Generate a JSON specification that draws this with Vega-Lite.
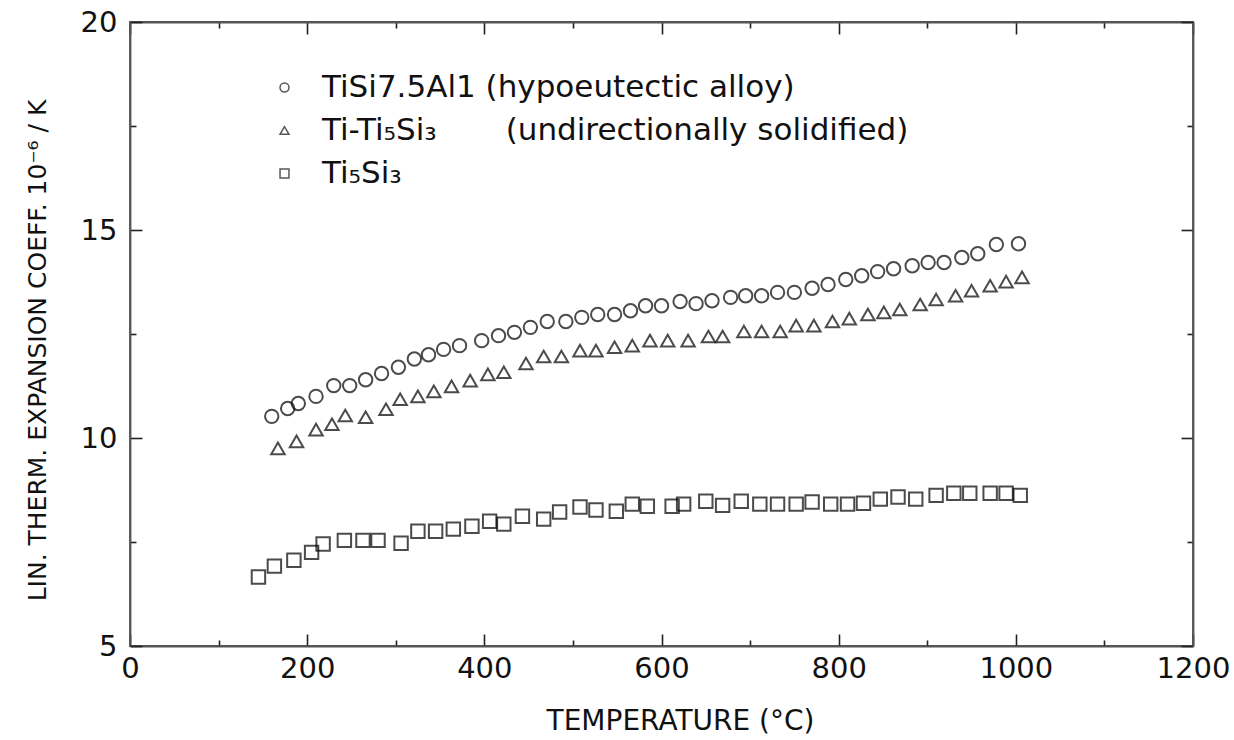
{
  "$schema": "https://vega.github.io/schema/vega-lite/v6.json",
  "autosize": "none",
  "width": 1063,
  "height": 624,
  "padding": {"left": 130, "top": 22, "right": 41, "bottom": 94},
  "background": "white",
  "config": {
    "view": {"stroke": "#555", "strokeWidth": 1.8},
    "font": "DejaVu Sans",
    "axis": {
      "grid": false,
      "domainColor": "#555",
      "domainWidth": 1.8,
      "tickColor": "#222",
      "tickWidth": 1.6,
      "labelFont": "DejaVu Sans",
      "labelFontSize": 29,
      "labelColor": "#111",
      "labelFlush": false,
      "labelOverlap": false,
      "titleFont": "DejaVu Sans",
      "titleFontSize": 25,
      "titleFontWeight": "normal",
      "titleColor": "#111"
    },
    "legend": {
      "labelFont": "DejaVu Sans",
      "labelFontSize": 31,
      "labelColor": "#111",
      "labelLimit": 0
    }
  },
  "data": {
    "values": [
      {"s": "c", "T": 160, "a": 10.52}, {"s": "c", "T": 178, "a": 10.71}, {"s": "c", "T": 190, "a": 10.83}, {"s": "c", "T": 210, "a": 11.0},
      {"s": "c", "T": 230, "a": 11.26}, {"s": "c", "T": 248, "a": 11.26}, {"s": "c", "T": 266, "a": 11.4}, {"s": "c", "T": 284, "a": 11.55},
      {"s": "c", "T": 303, "a": 11.7}, {"s": "c", "T": 321, "a": 11.9}, {"s": "c", "T": 337, "a": 12.0}, {"s": "c", "T": 354, "a": 12.13},
      {"s": "c", "T": 372, "a": 12.22}, {"s": "c", "T": 397, "a": 12.34}, {"s": "c", "T": 416, "a": 12.46}, {"s": "c", "T": 434, "a": 12.54},
      {"s": "c", "T": 452, "a": 12.66}, {"s": "c", "T": 471, "a": 12.8}, {"s": "c", "T": 492, "a": 12.8}, {"s": "c", "T": 510, "a": 12.9},
      {"s": "c", "T": 528, "a": 12.97}, {"s": "c", "T": 547, "a": 12.97}, {"s": "c", "T": 565, "a": 13.06}, {"s": "c", "T": 582, "a": 13.18},
      {"s": "c", "T": 600, "a": 13.18}, {"s": "c", "T": 621, "a": 13.28}, {"s": "c", "T": 639, "a": 13.23}, {"s": "c", "T": 657, "a": 13.3},
      {"s": "c", "T": 678, "a": 13.38}, {"s": "c", "T": 695, "a": 13.42}, {"s": "c", "T": 713, "a": 13.42}, {"s": "c", "T": 731, "a": 13.5},
      {"s": "c", "T": 750, "a": 13.5}, {"s": "c", "T": 770, "a": 13.6}, {"s": "c", "T": 788, "a": 13.69}, {"s": "c", "T": 808, "a": 13.81},
      {"s": "c", "T": 826, "a": 13.9}, {"s": "c", "T": 844, "a": 14.0}, {"s": "c", "T": 862, "a": 14.07}, {"s": "c", "T": 883, "a": 14.14},
      {"s": "c", "T": 901, "a": 14.22}, {"s": "c", "T": 919, "a": 14.22}, {"s": "c", "T": 939, "a": 14.34}, {"s": "c", "T": 957, "a": 14.43},
      {"s": "c", "T": 978, "a": 14.65}, {"s": "c", "T": 1003, "a": 14.67},
      {"s": "t", "T": 167, "a": 9.75}, {"s": "t", "T": 188, "a": 9.92}, {"s": "t", "T": 210, "a": 10.2}, {"s": "t", "T": 228, "a": 10.33},
      {"s": "t", "T": 243, "a": 10.54}, {"s": "t", "T": 266, "a": 10.5}, {"s": "t", "T": 289, "a": 10.69}, {"s": "t", "T": 305, "a": 10.93},
      {"s": "t", "T": 325, "a": 11.0}, {"s": "t", "T": 343, "a": 11.12}, {"s": "t", "T": 363, "a": 11.24}, {"s": "t", "T": 384, "a": 11.38},
      {"s": "t", "T": 404, "a": 11.53}, {"s": "t", "T": 422, "a": 11.58}, {"s": "t", "T": 447, "a": 11.79}, {"s": "t", "T": 467, "a": 11.96},
      {"s": "t", "T": 487, "a": 11.96}, {"s": "t", "T": 508, "a": 12.1}, {"s": "t", "T": 526, "a": 12.1}, {"s": "t", "T": 547, "a": 12.18},
      {"s": "t", "T": 567, "a": 12.22}, {"s": "t", "T": 587, "a": 12.34}, {"s": "t", "T": 607, "a": 12.34}, {"s": "t", "T": 630, "a": 12.34},
      {"s": "t", "T": 653, "a": 12.44}, {"s": "t", "T": 669, "a": 12.44}, {"s": "t", "T": 693, "a": 12.56}, {"s": "t", "T": 713, "a": 12.56},
      {"s": "t", "T": 734, "a": 12.56}, {"s": "t", "T": 752, "a": 12.7}, {"s": "t", "T": 772, "a": 12.7}, {"s": "t", "T": 793, "a": 12.8},
      {"s": "t", "T": 812, "a": 12.87}, {"s": "t", "T": 833, "a": 12.97}, {"s": "t", "T": 851, "a": 13.02}, {"s": "t", "T": 869, "a": 13.09},
      {"s": "t", "T": 892, "a": 13.21}, {"s": "t", "T": 910, "a": 13.33}, {"s": "t", "T": 932, "a": 13.42}, {"s": "t", "T": 950, "a": 13.54},
      {"s": "t", "T": 971, "a": 13.66}, {"s": "t", "T": 989, "a": 13.76}, {"s": "t", "T": 1007, "a": 13.86},
      {"s": "q", "T": 145, "a": 6.66}, {"s": "q", "T": 163, "a": 6.92}, {"s": "q", "T": 185, "a": 7.06}, {"s": "q", "T": 205, "a": 7.25},
      {"s": "q", "T": 218, "a": 7.45}, {"s": "q", "T": 242, "a": 7.54}, {"s": "q", "T": 263, "a": 7.54}, {"s": "q", "T": 280, "a": 7.54},
      {"s": "q", "T": 306, "a": 7.47}, {"s": "q", "T": 325, "a": 7.76}, {"s": "q", "T": 345, "a": 7.76}, {"s": "q", "T": 365, "a": 7.81},
      {"s": "q", "T": 386, "a": 7.88}, {"s": "q", "T": 406, "a": 8.0}, {"s": "q", "T": 422, "a": 7.93}, {"s": "q", "T": 443, "a": 8.12},
      {"s": "q", "T": 467, "a": 8.05}, {"s": "q", "T": 485, "a": 8.22}, {"s": "q", "T": 508, "a": 8.34}, {"s": "q", "T": 526, "a": 8.27},
      {"s": "q", "T": 549, "a": 8.24}, {"s": "q", "T": 567, "a": 8.41}, {"s": "q", "T": 584, "a": 8.36}, {"s": "q", "T": 612, "a": 8.36},
      {"s": "q", "T": 625, "a": 8.41}, {"s": "q", "T": 650, "a": 8.48}, {"s": "q", "T": 669, "a": 8.38}, {"s": "q", "T": 690, "a": 8.48},
      {"s": "q", "T": 711, "a": 8.41}, {"s": "q", "T": 731, "a": 8.41}, {"s": "q", "T": 752, "a": 8.41}, {"s": "q", "T": 770, "a": 8.46},
      {"s": "q", "T": 791, "a": 8.41}, {"s": "q", "T": 810, "a": 8.41}, {"s": "q", "T": 828, "a": 8.43}, {"s": "q", "T": 847, "a": 8.53},
      {"s": "q", "T": 867, "a": 8.58}, {"s": "q", "T": 887, "a": 8.53}, {"s": "q", "T": 910, "a": 8.62}, {"s": "q", "T": 930, "a": 8.67},
      {"s": "q", "T": 948, "a": 8.67}, {"s": "q", "T": 971, "a": 8.67}, {"s": "q", "T": 989, "a": 8.67}, {"s": "q", "T": 1005, "a": 8.62}
    ]
  },
  "resolve": {"axis": {"x": "independent", "y": "independent"}},
  "layer": [
    {
      "mark": {"type": "point", "filled": false, "stroke": "#000", "strokeWidth": 2, "size": 180},
      "encoding": {
        "x": {
          "field": "T", "type": "quantitative",
          "scale": {"domain": [0, 1200], "nice": false, "zero": false},
          "axis": {
            "orient": "bottom",
            "values": [0, 100, 200, 300, 400, 500, 600, 700, 800, 900, 1000, 1100, 1200],
            "format": "d",
            "labelExpr": "datum.value % 200 === 0 ? datum.label : ''",
            "tickSize": {"condition": {"test": "datum.value % 200 === 0", "value": -12}, "value": -6},
            "labelPadding": 20,
            "title": "TEMPERATURE (°C)",
            "titleFontSize": 28,
            "titlePadding": 18,
            "titleX": 550
          }
        },
        "y": {
          "field": "a", "type": "quantitative",
          "scale": {"domain": [5, 20], "nice": false, "zero": false},
          "axis": {
            "orient": "left",
            "values": [5, 7.5, 10, 12.5, 15, 17.5, 20],
            "labelExpr": "datum.value % 5 === 0 ? datum.label : ''",
            "tickSize": {"condition": {"test": "datum.value % 5 === 0", "value": -12}, "value": -6},
            "labelPadding": 25,
            "title": "LIN. THERM. EXPANSION COEFF. 10⁻⁶ / K",
            "titlePadding": 30,
            "titleY": 328
          }
        },
        "shape": {
          "field": "s", "type": "nominal",
          "scale": {"domain": ["c", "t", "q"], "range": ["circle", "triangle-up", "square"]},
          "legend": {
            "orient": "none",
            "legendX": 139,
            "legendY": 50,
            "title": null,
            "symbolSize": 80,
            "symbolStrokeColor": "#111",
            "symbolFillColor": "transparent",
            "symbolStrokeWidth": 1.5,
            "labelOffset": 22,
            "rowPadding": 11,
            "labelExpr": "datum.value === 'c' ? 'TiSi7.5Al1 (hypoeutectic alloy)' : datum.value === 't' ? 'Ti-Ti₅Si₃\u00a0\u00a0\u00a0\u00a0\u00a0\u00a0\u00a0(undirectionally solidified)' : 'Ti₅Si₃'"
          }
        }
      }
    },
    {
      "mark": {"type": "point", "opacity": 0},
      "encoding": {
        "x": {
          "field": "T", "type": "quantitative",
          "axis": {
            "orient": "top",
            "values": [0, 100, 200, 300, 400, 500, 600, 700, 800, 900, 1000, 1100, 1200],
            "labels": false,
            "tickSize": {"condition": {"test": "datum.value % 200 === 0", "value": -12}, "value": -6},
            "title": null
          }
        },
        "y": {
          "field": "a", "type": "quantitative",
          "axis": {
            "orient": "right",
            "values": [5, 7.5, 10, 12.5, 15, 17.5, 20],
            "labels": false,
            "tickSize": {"condition": {"test": "datum.value % 5 === 0", "value": -12}, "value": -6},
            "title": null
          }
        }
      }
    }
  ]
}
